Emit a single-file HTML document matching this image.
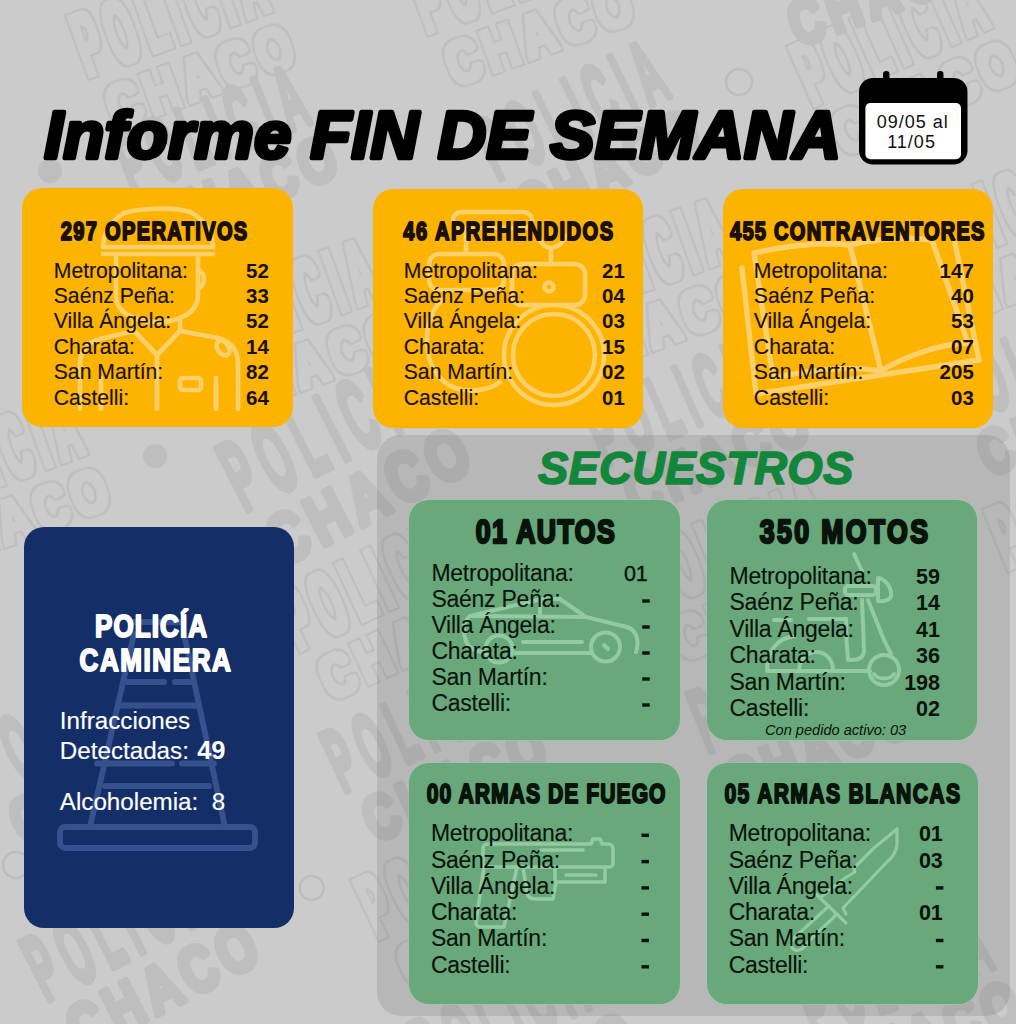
<!DOCTYPE html>
<html><head><meta charset="utf-8">
<style>
html,body{margin:0;padding:0;}
body{width:1016px;height:1024px;position:relative;overflow:hidden;background:#cbcbcb;font-family:"Liberation Sans",sans-serif;}
.card{position:absolute;border-radius:20px;}
.or{background:#fdb401;}
.gr{background:#68a87b;box-shadow:0 0 0 1px rgba(160,200,170,.55);}
svg{position:absolute;left:0;top:0;}
text{font-family:"Liberation Sans",sans-serif;}
</style></head><body>
<svg width="1016" height="1024" viewBox="0 0 1016 1024" style="left:0;top:0">
<defs><filter id="ol" x="-20%" y="-40%" width="140%" height="180%"><feMorphology operator="dilate" radius="4" in="SourceAlpha" result="d1"/><feMorphology operator="dilate" radius="2.2" in="SourceAlpha" result="d2"/><feComposite in="d1" in2="d2" operator="out" result="ring"/><feFlood flood-color="#bebebe" result="c"/><feComposite in="c" in2="ring" operator="in"/></filter></defs>
<g transform="translate(88,77) rotate(-20) scale(1.0)" fill="#000" filter="url(#ol)" font-family="Liberation Sans" font-weight="700"><text x="0" y="0" font-size="90" letter-spacing="22" textLength="204" lengthAdjust="spacingAndGlyphs">POLICIA</text><text x="8" y="59" font-size="62" letter-spacing="8" textLength="200" lengthAdjust="spacingAndGlyphs">CHACO</text></g>
<g transform="translate(427,34) rotate(-20) scale(1.0)" fill="#000" filter="url(#ol)" font-family="Liberation Sans" font-weight="700"><text x="0" y="0" font-size="90" letter-spacing="22" textLength="204" lengthAdjust="spacingAndGlyphs">POLICIA</text><text x="8" y="59" font-size="62" letter-spacing="8" textLength="200" lengthAdjust="spacingAndGlyphs">CHACO</text></g>
<g transform="translate(813,106) rotate(-24) scale(1.0)" fill="#000" filter="url(#ol)" font-family="Liberation Sans" font-weight="700"><text x="0" y="0" font-size="90" letter-spacing="22" textLength="204" lengthAdjust="spacingAndGlyphs">POLICIA</text><text x="8" y="59" font-size="62" letter-spacing="8" textLength="200" lengthAdjust="spacingAndGlyphs">CHACO</text></g>
<g transform="translate(132,195) rotate(-22) scale(1.0)" fill="#bebebe" stroke="#bebebe" stroke-width="7.00" stroke-linejoin="round" font-family="Liberation Sans" font-weight="700"><text x="0" y="0" font-size="90" letter-spacing="22" textLength="204" lengthAdjust="spacingAndGlyphs">POLICIA</text><text x="8" y="59" font-size="62" letter-spacing="8" textLength="200" lengthAdjust="spacingAndGlyphs">CHACO</text></g>
<g transform="translate(497,181) rotate(-26) scale(1.0)" fill="#bebebe" stroke="#bebebe" stroke-width="7.00" stroke-linejoin="round" font-family="Liberation Sans" font-weight="700"><text x="0" y="0" font-size="90" letter-spacing="22" textLength="204" lengthAdjust="spacingAndGlyphs">POLICIA</text><text x="8" y="59" font-size="62" letter-spacing="8" textLength="200" lengthAdjust="spacingAndGlyphs">CHACO</text></g>
<g transform="translate(770,-6) rotate(-20) scale(1.0)" fill="#bebebe" stroke="#bebebe" stroke-width="7.00" stroke-linejoin="round" font-family="Liberation Sans" font-weight="700"><text x="0" y="0" font-size="90" letter-spacing="22" textLength="204" lengthAdjust="spacingAndGlyphs">POLICIA</text><text x="8" y="59" font-size="62" letter-spacing="8" textLength="200" lengthAdjust="spacingAndGlyphs">CHACO</text></g>
<g transform="translate(-97,520) rotate(-20) scale(1.0)" fill="#000" filter="url(#ol)" font-family="Liberation Sans" font-weight="700"><text x="0" y="0" font-size="90" letter-spacing="22" textLength="204" lengthAdjust="spacingAndGlyphs">POLICIA</text><text x="8" y="59" font-size="62" letter-spacing="8" textLength="200" lengthAdjust="spacingAndGlyphs">CHACO</text></g>
<g transform="translate(199,364) rotate(-20) scale(1.0)" fill="#000" filter="url(#ol)" font-family="Liberation Sans" font-weight="700"><text x="0" y="0" font-size="90" letter-spacing="22" textLength="204" lengthAdjust="spacingAndGlyphs">POLICIA</text><text x="8" y="59" font-size="62" letter-spacing="8" textLength="200" lengthAdjust="spacingAndGlyphs">CHACO</text></g>
<g transform="translate(551,324) rotate(-20) scale(1.0)" fill="#000" filter="url(#ol)" font-family="Liberation Sans" font-weight="700"><text x="0" y="0" font-size="90" letter-spacing="22" textLength="204" lengthAdjust="spacingAndGlyphs">POLICIA</text><text x="8" y="59" font-size="62" letter-spacing="8" textLength="200" lengthAdjust="spacingAndGlyphs">CHACO</text></g>
<g transform="translate(905,282) rotate(-22) scale(1.0)" fill="#000" filter="url(#ol)" font-family="Liberation Sans" font-weight="700"><text x="0" y="0" font-size="90" letter-spacing="22" textLength="204" lengthAdjust="spacingAndGlyphs">POLICIA</text><text x="8" y="59" font-size="62" letter-spacing="8" textLength="200" lengthAdjust="spacingAndGlyphs">CHACO</text></g>
<g transform="translate(244,512) rotate(-27) scale(1.12)" fill="#bebebe" stroke="#bebebe" stroke-width="6.25" stroke-linejoin="round" font-family="Liberation Sans" font-weight="700"><text x="0" y="0" font-size="90" letter-spacing="22" textLength="204" lengthAdjust="spacingAndGlyphs">POLICIA</text><text x="8" y="59" font-size="62" letter-spacing="8" textLength="200" lengthAdjust="spacingAndGlyphs">CHACO</text></g>
<g transform="translate(605,467) rotate(-24) scale(1.0)" fill="#bebebe" stroke="#bebebe" stroke-width="7.00" stroke-linejoin="round" font-family="Liberation Sans" font-weight="700"><text x="0" y="0" font-size="90" letter-spacing="22" textLength="204" lengthAdjust="spacingAndGlyphs">POLICIA</text><text x="8" y="59" font-size="62" letter-spacing="8" textLength="200" lengthAdjust="spacingAndGlyphs">CHACO</text></g>
<g transform="translate(959,425) rotate(-22) scale(1.0)" fill="#bebebe" stroke="#bebebe" stroke-width="7.00" stroke-linejoin="round" font-family="Liberation Sans" font-weight="700"><text x="0" y="0" font-size="90" letter-spacing="22" textLength="204" lengthAdjust="spacingAndGlyphs">POLICIA</text><text x="8" y="59" font-size="62" letter-spacing="8" textLength="200" lengthAdjust="spacingAndGlyphs">CHACO</text></g>
<g transform="translate(299,651) rotate(-25) scale(1.0)" fill="#000" filter="url(#ol)" font-family="Liberation Sans" font-weight="700"><text x="0" y="0" font-size="90" letter-spacing="22" textLength="204" lengthAdjust="spacingAndGlyphs">POLICIA</text><text x="8" y="59" font-size="62" letter-spacing="8" textLength="200" lengthAdjust="spacingAndGlyphs">CHACO</text></g>
<g transform="translate(653,610) rotate(-22) scale(1.0)" fill="#000" filter="url(#ol)" font-family="Liberation Sans" font-weight="700"><text x="0" y="0" font-size="90" letter-spacing="22" textLength="204" lengthAdjust="spacingAndGlyphs">POLICIA</text><text x="8" y="59" font-size="62" letter-spacing="8" textLength="200" lengthAdjust="spacingAndGlyphs">CHACO</text></g>
<g transform="translate(1007,570) rotate(-22) scale(1.0)" fill="#000" filter="url(#ol)" font-family="Liberation Sans" font-weight="700"><text x="0" y="0" font-size="90" letter-spacing="22" textLength="204" lengthAdjust="spacingAndGlyphs">POLICIA</text><text x="8" y="59" font-size="62" letter-spacing="8" textLength="200" lengthAdjust="spacingAndGlyphs">CHACO</text></g>
<g transform="translate(-10,795) rotate(-25) scale(1.0)" fill="#bebebe" stroke="#bebebe" stroke-width="7.00" stroke-linejoin="round" font-family="Liberation Sans" font-weight="700"><text x="0" y="0" font-size="90" letter-spacing="22" textLength="204" lengthAdjust="spacingAndGlyphs">POLICIA</text><text x="8" y="59" font-size="62" letter-spacing="8" textLength="200" lengthAdjust="spacingAndGlyphs">CHACO</text></g>
<g transform="translate(343,793) rotate(-25) scale(1.0)" fill="#bebebe" stroke="#bebebe" stroke-width="7.00" stroke-linejoin="round" font-family="Liberation Sans" font-weight="700"><text x="0" y="0" font-size="90" letter-spacing="22" textLength="204" lengthAdjust="spacingAndGlyphs">POLICIA</text><text x="8" y="59" font-size="62" letter-spacing="8" textLength="200" lengthAdjust="spacingAndGlyphs">CHACO</text></g>
<g transform="translate(707,753) rotate(-22) scale(1.0)" fill="#bebebe" stroke="#bebebe" stroke-width="7.00" stroke-linejoin="round" font-family="Liberation Sans" font-weight="700"><text x="0" y="0" font-size="90" letter-spacing="22" textLength="204" lengthAdjust="spacingAndGlyphs">POLICIA</text><text x="8" y="59" font-size="62" letter-spacing="8" textLength="200" lengthAdjust="spacingAndGlyphs">CHACO</text></g>
<g transform="translate(378,939) rotate(-25) scale(1.0)" fill="#000" filter="url(#ol)" font-family="Liberation Sans" font-weight="700"><text x="0" y="0" font-size="90" letter-spacing="22" textLength="204" lengthAdjust="spacingAndGlyphs">POLICIA</text><text x="8" y="59" font-size="62" letter-spacing="8" textLength="200" lengthAdjust="spacingAndGlyphs">CHACO</text></g>
<g transform="translate(761,896) rotate(-22) scale(1.0)" fill="#000" filter="url(#ol)" font-family="Liberation Sans" font-weight="700"><text x="0" y="0" font-size="90" letter-spacing="22" textLength="204" lengthAdjust="spacingAndGlyphs">POLICIA</text><text x="8" y="59" font-size="62" letter-spacing="8" textLength="200" lengthAdjust="spacingAndGlyphs">CHACO</text></g>
<g transform="translate(46,1002) rotate(-27) scale(1.05)" fill="#bebebe" stroke="#bebebe" stroke-width="6.67" stroke-linejoin="round" font-family="Liberation Sans" font-weight="700"><text x="0" y="0" font-size="90" letter-spacing="22" textLength="204" lengthAdjust="spacingAndGlyphs">POLICIA</text><text x="8" y="59" font-size="62" letter-spacing="8" textLength="200" lengthAdjust="spacingAndGlyphs">CHACO</text></g>
<g transform="translate(432,1082) rotate(-25) scale(1.0)" fill="#bebebe" stroke="#bebebe" stroke-width="7.00" stroke-linejoin="round" font-family="Liberation Sans" font-weight="700"><text x="0" y="0" font-size="90" letter-spacing="22" textLength="204" lengthAdjust="spacingAndGlyphs">POLICIA</text><text x="8" y="59" font-size="62" letter-spacing="8" textLength="200" lengthAdjust="spacingAndGlyphs">CHACO</text></g>
<g transform="translate(815,1040) rotate(-22) scale(1.0)" fill="#bebebe" stroke="#bebebe" stroke-width="7.00" stroke-linejoin="round" font-family="Liberation Sans" font-weight="700"><text x="0" y="0" font-size="90" letter-spacing="22" textLength="204" lengthAdjust="spacingAndGlyphs">POLICIA</text><text x="8" y="59" font-size="62" letter-spacing="8" textLength="200" lengthAdjust="spacingAndGlyphs">CHACO</text></g>
<circle cx="50" cy="171" r="12" fill="#bebebe"/>
<circle cx="155" cy="456" r="12" fill="#bebebe"/>
<circle cx="739" cy="82" r="13" fill="none" stroke="#bdbdbd" stroke-width="2.5"/>
<circle cx="311.7" cy="888" r="12" fill="none" stroke="#bdbdbd" stroke-width="2.5"/>
<circle cx="16" cy="865" r="13" fill="none" stroke="#bdbdbd" stroke-width="2.5"/>
</svg>
<svg style="left:855px;top:66px" width="120" height="104" viewBox="0 0 120 104">
  <rect x="28" y="5" width="6.5" height="14" rx="3.2" fill="#000"/>
  <rect x="82" y="5" width="6.5" height="14" rx="3.2" fill="#000"/>
  <rect x="4" y="12" width="108.5" height="86.5" rx="14" fill="#000"/>
  <rect x="10.4" y="37" width="95.6" height="56.2" rx="5" fill="#fff"/>
</svg>
<div class="card or" style="left:22px;top:188px;width:271px;height:239px"></div>
<div class="card or" style="left:373px;top:189px;width:270px;height:239px"></div>
<div class="card or" style="left:723px;top:189px;width:270px;height:239px"></div>
<div class="card" style="left:24px;top:527px;width:270px;height:401px;background:#142e68"></div>
<div class="card" style="left:377px;top:434.5px;width:633px;height:581px;background:rgba(0,0,0,0.093);border-radius:24px"></div>
<div class="card gr" style="left:409px;top:500px;width:271px;height:240px"></div>
<div class="card gr" style="left:707px;top:500px;width:270px;height:240px"></div>
<div class="card gr" style="left:409px;top:763px;width:271px;height:241px"></div>
<div class="card gr" style="left:707px;top:763px;width:271px;height:241px"></div>
<svg width="1016" height="1024" viewBox="0 0 1016 1024" fill="none" stroke-linecap="round" stroke-linejoin="round">
<!-- officer -->
<g stroke="#fdd06a" stroke-width="4.7">
  <path d="M103,247 C104,232 110,222 124,213 C140,208 175,207 190,212 C206,220 212,232 213,247"/>
  <path d="M103,247 L213,247 M103,254 L213,254"/>
  <path d="M116,258 L116,296 C116,312 134,322 157,322 C180,322 198,312 198,296 L198,258"/>
  <path d="M198,270 C206,272 206,286 198,288"/>
  <path d="M134,318 L134,331 L157,355 L180,331 L180,318"/>
  <path d="M134,331 L100,339 C86,343 80,352 80,365 L80,409"/>
  <path d="M180,331 L218,338 C232,342 238,350 238,365 L238,409"/>
  <path d="M157,355 L157,409"/>
  <ellipse cx="223" cy="348" rx="5.5" ry="8" transform="rotate(-35 223 348)"/>
  <rect x="180" y="378" width="21" height="12" rx="3"/>
  <path d="M216,378 L216,409 M101,378 L101,409"/>
</g>
<!-- handcuffs -->
<g stroke="#fdd06a" stroke-width="4.6">
  <rect x="453" y="212" width="79" height="16" rx="8"/>
  <path d="M466,228 L466,254"/>
  <path d="M537,232 C540,246 548,248 551,248 C556,248 562,244 566,236"/>
  <path d="M551,248 L551,264"/>
  <rect x="429" y="254" width="75" height="36" rx="10"/>
  <path d="M442,300 C420,320 420,375 455,388 C470,393 490,390 500,382"/>
  <rect x="512" y="264" width="73" height="41" rx="10"/>
  <circle cx="549" cy="287" r="4.5"/>
  <circle cx="554" cy="355" r="50"/>
  <circle cx="554" cy="355" r="41"/>
</g>
<!-- book -->
<g stroke="#fdd06a" stroke-width="5.4">
  <path d="M742,268 L756,394 L979,360 L955,243"/>
  <path d="M754,253 C790,245 825,242 850,245 L881,371 C850,366 810,370 773,378 Z"/>
  <path d="M850,245 C880,238 910,237 932,240 L968,343 C940,344 905,356 881,371"/>
</g>
<!-- car -->
<g stroke="#93caa2" stroke-width="4">
  <path d="M466,641 C462,630 463,622 470,616 L542,599 L560,599 L586,617 L627,627 C636,630 640,640 636,652"/>
  <path d="M470,616 L586,617 M540,599 L540,617"/>
  <path d="M515,653 L592,653"/>
  <path d="M466,641 C470,650 478,652 485,652"/>
  <circle cx="605.5" cy="647" r="14.5"/>
  <circle cx="499" cy="649" r="13.5"/>
  <path d="M523,642 L582,642"/>
  <path d="M604,645 L608,649"/>
</g>
<!-- scooter -->
<g stroke="#93caa2" stroke-width="4">
  <path d="M854,554 L862,571"/>
  <path d="M878,578 C888,580 892,590 891,596 C890,600 884,602 878,601 Z"/>
  <rect x="845" y="586" width="31" height="9" rx="3"/>
  <path d="M868,600 L884,640 L891,654"/>
  <path d="M862,600 L864,650 C864,657 860,660 852,660 L848,660 C846,640 846,625 846,619"/>
  <path d="M809,619 L846,619 M774,620 L791,620"/>
  <path d="M767,670 C767,650 778,638 795,636"/>
  <path d="M799,670 C800,658 808,652 816,652 C826,652 833,660 833,670"/>
  <path d="M767,671 L870,671"/>
  <circle cx="884" cy="670" r="15"/>
  <path d="M874,674 C878,680 890,680 894,674"/>
</g>
<!-- gun -->
<g stroke="#93caa2" stroke-width="3.6">
  <path d="M487,844 L591,844 L593,839 L600,839 L602,844 L608,844 C611,844 613,846 613,849 L613,864 C613,866 611,867 609,867 L487,867 C485,867 483,866 483,864 L483,848 C483,846 485,844 487,844 Z"/>
  <path d="M541,850 L583,850"/>
  <path d="M555,867 L555,882 L605,882 L605,867"/>
  <path d="M566,875 L596,875"/>
  <path d="M523,867 L527,893 C528,897 531,899 535,899 L553,899 L556,882"/>
  <path d="M484,867 L476,922 C476,925 478,927 481,927 L504,927 L517,867"/>
</g>
<!-- knife -->
<g stroke="#93caa2" stroke-width="3.2">
  <path d="M897,829 L874,848 L854,868 L855,872 L845,878 L821,897"/>
  <path d="M897,829 L897,845 C896,852 892,858 887,862 L843,908 L846,914"/>
  <path d="M816,894 L846,923"/>
  <path d="M829,906 L796,936 C790,942 790,948 795,950 C800,952 806,946 810,940 L836,915"/>
</g>
<!-- cone -->
<g stroke="#36528e" stroke-width="5.8">
  <rect x="60" y="827" width="195" height="21" rx="5"/>
  <path d="M90,827 L134,634 M225,827 L184,634"/>
  <path d="M127,682 L164,682 M175,682 L190,682"/>
  <path d="M119,705.5 L198,705.5"/>
  <path d="M97,763.5 L172,763.5 M182,763.5 L214,763.5"/>
  <path d="M105,786 L209,786"/>
  <path d="M133,622 L183,622"/>
</g>
</svg>

<svg width="1016" height="1024" viewBox="0 0 1016 1024">
<text transform="translate(60.67,239.90) scale(0.7700,1)" font-size="26.02" fill="#1b1003" font-weight="700" letter-spacing="1.769" stroke="#1b1003" stroke-width="2.0" stroke-linejoin="round">297 OPERATIVOS</text>
<text transform="translate(53.75,277.50) scale(0.9630,1)" font-size="22.00" fill="#1b1003" stroke="#1b1003" stroke-width="0.15" stroke-linejoin="round">Metropolitana:</text>
<text x="268.80" y="277.50" font-size="20.50" fill="#1b1003" font-weight="700" text-anchor="end">52</text>
<text transform="translate(53.75,302.90) scale(0.9630,1)" font-size="22.00" fill="#1b1003" stroke="#1b1003" stroke-width="0.15" stroke-linejoin="round">Saénz Peña:</text>
<text x="268.80" y="302.90" font-size="20.50" fill="#1b1003" font-weight="700" text-anchor="end">33</text>
<text transform="translate(53.75,328.30) scale(0.9630,1)" font-size="22.00" fill="#1b1003" stroke="#1b1003" stroke-width="0.15" stroke-linejoin="round">Villa Ángela:</text>
<text x="268.80" y="328.30" font-size="20.50" fill="#1b1003" font-weight="700" text-anchor="end">52</text>
<text transform="translate(53.75,353.70) scale(0.9630,1)" font-size="22.00" fill="#1b1003" stroke="#1b1003" stroke-width="0.15" stroke-linejoin="round">Charata:</text>
<text x="268.80" y="353.70" font-size="20.50" fill="#1b1003" font-weight="700" text-anchor="end">14</text>
<text transform="translate(53.75,379.10) scale(0.9630,1)" font-size="22.00" fill="#1b1003" stroke="#1b1003" stroke-width="0.15" stroke-linejoin="round">San Martín:</text>
<text x="268.80" y="379.10" font-size="20.50" fill="#1b1003" font-weight="700" text-anchor="end">82</text>
<text transform="translate(53.75,404.50) scale(0.9630,1)" font-size="22.00" fill="#1b1003" stroke="#1b1003" stroke-width="0.15" stroke-linejoin="round">Castelli:</text>
<text x="268.80" y="404.50" font-size="20.50" fill="#1b1003" font-weight="700" text-anchor="end">64</text>
<text transform="translate(403.37,239.90) scale(0.7700,1)" font-size="26.02" fill="#1b1003" font-weight="700" letter-spacing="1.962" stroke="#1b1003" stroke-width="2.0" stroke-linejoin="round">46 APREHENDIDOS</text>
<text transform="translate(403.75,277.50) scale(0.9630,1)" font-size="22.00" fill="#1b1003" stroke="#1b1003" stroke-width="0.15" stroke-linejoin="round">Metropolitana:</text>
<text x="624.80" y="277.50" font-size="20.50" fill="#1b1003" font-weight="700" text-anchor="end">21</text>
<text transform="translate(403.75,302.90) scale(0.9630,1)" font-size="22.00" fill="#1b1003" stroke="#1b1003" stroke-width="0.15" stroke-linejoin="round">Saénz Peña:</text>
<text x="624.80" y="302.90" font-size="20.50" fill="#1b1003" font-weight="700" text-anchor="end">04</text>
<text transform="translate(403.75,328.30) scale(0.9630,1)" font-size="22.00" fill="#1b1003" stroke="#1b1003" stroke-width="0.15" stroke-linejoin="round">Villa Ángela:</text>
<text x="624.80" y="328.30" font-size="20.50" fill="#1b1003" font-weight="700" text-anchor="end">03</text>
<text transform="translate(403.75,353.70) scale(0.9630,1)" font-size="22.00" fill="#1b1003" stroke="#1b1003" stroke-width="0.15" stroke-linejoin="round">Charata:</text>
<text x="624.80" y="353.70" font-size="20.50" fill="#1b1003" font-weight="700" text-anchor="end">15</text>
<text transform="translate(403.75,379.10) scale(0.9630,1)" font-size="22.00" fill="#1b1003" stroke="#1b1003" stroke-width="0.15" stroke-linejoin="round">San Martín:</text>
<text x="624.80" y="379.10" font-size="20.50" fill="#1b1003" font-weight="700" text-anchor="end">02</text>
<text transform="translate(403.75,404.50) scale(0.9630,1)" font-size="22.00" fill="#1b1003" stroke="#1b1003" stroke-width="0.15" stroke-linejoin="round">Castelli:</text>
<text x="624.80" y="404.50" font-size="20.50" fill="#1b1003" font-weight="700" text-anchor="end">01</text>
<text transform="translate(730.07,239.90) scale(0.7700,1)" font-size="26.02" fill="#1b1003" font-weight="700" letter-spacing="1.629" stroke="#1b1003" stroke-width="2.0" stroke-linejoin="round">455 CONTRAVENTORES</text>
<text transform="translate(753.85,277.50) scale(0.9630,1)" font-size="22.00" fill="#1b1003" stroke="#1b1003" stroke-width="0.15" stroke-linejoin="round">Metropolitana:</text>
<text x="973.80" y="277.50" font-size="20.50" fill="#1b1003" font-weight="700" text-anchor="end">147</text>
<text transform="translate(753.85,302.90) scale(0.9630,1)" font-size="22.00" fill="#1b1003" stroke="#1b1003" stroke-width="0.15" stroke-linejoin="round">Saénz Peña:</text>
<text x="973.80" y="302.90" font-size="20.50" fill="#1b1003" font-weight="700" text-anchor="end">40</text>
<text transform="translate(753.85,328.30) scale(0.9630,1)" font-size="22.00" fill="#1b1003" stroke="#1b1003" stroke-width="0.15" stroke-linejoin="round">Villa Ángela:</text>
<text x="973.80" y="328.30" font-size="20.50" fill="#1b1003" font-weight="700" text-anchor="end">53</text>
<text transform="translate(753.85,353.70) scale(0.9630,1)" font-size="22.00" fill="#1b1003" stroke="#1b1003" stroke-width="0.15" stroke-linejoin="round">Charata:</text>
<text x="973.80" y="353.70" font-size="20.50" fill="#1b1003" font-weight="700" text-anchor="end">07</text>
<text transform="translate(753.85,379.10) scale(0.9630,1)" font-size="22.00" fill="#1b1003" stroke="#1b1003" stroke-width="0.15" stroke-linejoin="round">San Martín:</text>
<text x="973.80" y="379.10" font-size="20.50" fill="#1b1003" font-weight="700" text-anchor="end">205</text>
<text transform="translate(753.85,404.50) scale(0.9630,1)" font-size="22.00" fill="#1b1003" stroke="#1b1003" stroke-width="0.15" stroke-linejoin="round">Castelli:</text>
<text x="973.80" y="404.50" font-size="20.50" fill="#1b1003" font-weight="700" text-anchor="end">03</text>
<text transform="translate(94.94,637.30) scale(0.8400,1)" font-size="30.96" fill="#ffffff" font-weight="700" letter-spacing="1.338" stroke="#ffffff" stroke-width="2.0" stroke-linejoin="round">POLICÍA</text>
<text transform="translate(79.54,670.80) scale(0.8400,1)" font-size="30.96" fill="#ffffff" font-weight="700" letter-spacing="1.901" stroke="#ffffff" stroke-width="2.0" stroke-linejoin="round">CAMINERA</text>
<text x="59.80" y="729.30" font-size="24.20" fill="#ffffff" stroke="#ffffff" stroke-width="0.15" stroke-linejoin="round">Infracciones</text>
<text x="59.80" y="758.80" font-size="24.20" fill="#ffffff" stroke="#ffffff" stroke-width="0.15" stroke-linejoin="round">Detectadas: <tspan font-weight="700" stroke-width="0" font-size="25.5" x="197.2">49</tspan></text>
<text x="59.80" y="809.70" font-size="24.20" fill="#ffffff" stroke="#ffffff" stroke-width="0.15" stroke-linejoin="round">Alcoholemia:  8</text>
<text transform="translate(475.80,543.10) scale(0.7900,1)" font-size="33.72" fill="#08130a" font-weight="700" letter-spacing="1.827" stroke="#08130a" stroke-width="2.6" stroke-linejoin="round">01 AUTOS</text>
<text x="431.40" y="580.90" font-size="23.00" fill="#08130a" letter-spacing="-0.250" stroke="#08130a" stroke-width="0.1" stroke-linejoin="round">Metropolitana:</text>
<text x="647.80" y="580.90" font-size="21.50" fill="#08130a" stroke="#08130a" stroke-width="0.35" stroke-linejoin="round" text-anchor="end">01</text>
<text x="431.40" y="606.90" font-size="23.00" fill="#08130a" letter-spacing="-0.250" stroke="#08130a" stroke-width="0.1" stroke-linejoin="round">Saénz Peña:</text>
<rect x="642.20" y="599.30" width="7.5" height="3.4" fill="#08130a"/>
<text x="431.40" y="632.90" font-size="23.00" fill="#08130a" letter-spacing="-0.250" stroke="#08130a" stroke-width="0.1" stroke-linejoin="round">Villa Ángela:</text>
<rect x="642.20" y="625.30" width="7.5" height="3.4" fill="#08130a"/>
<text x="431.40" y="658.90" font-size="23.00" fill="#08130a" letter-spacing="-0.250" stroke="#08130a" stroke-width="0.1" stroke-linejoin="round">Charata:</text>
<rect x="642.20" y="651.30" width="7.5" height="3.4" fill="#08130a"/>
<text x="431.40" y="684.90" font-size="23.00" fill="#08130a" letter-spacing="-0.250" stroke="#08130a" stroke-width="0.1" stroke-linejoin="round">San Martín:</text>
<rect x="642.20" y="677.30" width="7.5" height="3.4" fill="#08130a"/>
<text x="431.40" y="710.90" font-size="23.00" fill="#08130a" letter-spacing="-0.250" stroke="#08130a" stroke-width="0.1" stroke-linejoin="round">Castelli:</text>
<rect x="642.20" y="703.30" width="7.5" height="3.4" fill="#08130a"/>
<text transform="translate(759.70,543.10) scale(0.7900,1)" font-size="33.72" fill="#08130a" font-weight="700" letter-spacing="3.048" stroke="#08130a" stroke-width="2.6" stroke-linejoin="round">350 MOTOS</text>
<text x="729.50" y="583.70" font-size="23.00" fill="#08130a" letter-spacing="-0.250" stroke="#08130a" stroke-width="0.1" stroke-linejoin="round">Metropolitana:</text>
<text x="940.00" y="583.70" font-size="21.50" fill="#08130a" font-weight="700" text-anchor="end">59</text>
<text x="729.50" y="610.15" font-size="23.00" fill="#08130a" letter-spacing="-0.250" stroke="#08130a" stroke-width="0.1" stroke-linejoin="round">Saénz Peña:</text>
<text x="940.00" y="610.15" font-size="21.50" fill="#08130a" font-weight="700" text-anchor="end">14</text>
<text x="729.50" y="636.60" font-size="23.00" fill="#08130a" letter-spacing="-0.250" stroke="#08130a" stroke-width="0.1" stroke-linejoin="round">Villa Ángela:</text>
<text x="940.00" y="636.60" font-size="21.50" fill="#08130a" font-weight="700" text-anchor="end">41</text>
<text x="729.50" y="663.05" font-size="23.00" fill="#08130a" letter-spacing="-0.250" stroke="#08130a" stroke-width="0.1" stroke-linejoin="round">Charata:</text>
<text x="940.00" y="663.05" font-size="21.50" fill="#08130a" font-weight="700" text-anchor="end">36</text>
<text x="729.50" y="689.50" font-size="23.00" fill="#08130a" letter-spacing="-0.250" stroke="#08130a" stroke-width="0.1" stroke-linejoin="round">San Martín:</text>
<text x="940.00" y="689.50" font-size="21.50" fill="#08130a" font-weight="700" text-anchor="end">198</text>
<text x="729.50" y="715.95" font-size="23.00" fill="#08130a" letter-spacing="-0.250" stroke="#08130a" stroke-width="0.1" stroke-linejoin="round">Castelli:</text>
<text x="940.00" y="715.95" font-size="21.50" fill="#08130a" font-weight="700" text-anchor="end">02</text>
<text transform="translate(426.69,803.00) scale(0.7500,1)" font-size="28.20" fill="#08130a" font-weight="700" letter-spacing="1.377" stroke="#08130a" stroke-width="2.0" stroke-linejoin="round">00 ARMAS DE FUEGO</text>
<text x="430.90" y="841.20" font-size="23.00" fill="#08130a" letter-spacing="-0.250" stroke="#08130a" stroke-width="0.1" stroke-linejoin="round">Metropolitana:</text>
<rect x="641.50" y="833.60" width="7.5" height="3.4" fill="#08130a"/>
<text x="430.90" y="867.50" font-size="23.00" fill="#08130a" letter-spacing="-0.250" stroke="#08130a" stroke-width="0.1" stroke-linejoin="round">Saénz Peña:</text>
<rect x="641.50" y="859.90" width="7.5" height="3.4" fill="#08130a"/>
<text x="430.90" y="893.80" font-size="23.00" fill="#08130a" letter-spacing="-0.250" stroke="#08130a" stroke-width="0.1" stroke-linejoin="round">Villa Ángela:</text>
<rect x="641.50" y="886.20" width="7.5" height="3.4" fill="#08130a"/>
<text x="430.90" y="920.10" font-size="23.00" fill="#08130a" letter-spacing="-0.250" stroke="#08130a" stroke-width="0.1" stroke-linejoin="round">Charata:</text>
<rect x="641.50" y="912.50" width="7.5" height="3.4" fill="#08130a"/>
<text x="430.90" y="946.40" font-size="23.00" fill="#08130a" letter-spacing="-0.250" stroke="#08130a" stroke-width="0.1" stroke-linejoin="round">San Martín:</text>
<rect x="641.50" y="938.80" width="7.5" height="3.4" fill="#08130a"/>
<text x="430.90" y="972.70" font-size="23.00" fill="#08130a" letter-spacing="-0.250" stroke="#08130a" stroke-width="0.1" stroke-linejoin="round">Castelli:</text>
<rect x="641.50" y="965.10" width="7.5" height="3.4" fill="#08130a"/>
<text transform="translate(724.49,803.00) scale(0.7500,1)" font-size="28.20" fill="#08130a" font-weight="700" letter-spacing="1.804" stroke="#08130a" stroke-width="2.0" stroke-linejoin="round">05 ARMAS BLANCAS</text>
<text x="728.70" y="841.20" font-size="23.00" fill="#08130a" letter-spacing="-0.250" stroke="#08130a" stroke-width="0.1" stroke-linejoin="round">Metropolitana:</text>
<text x="942.80" y="841.20" font-size="21.50" fill="#08130a" font-weight="700" text-anchor="end">01</text>
<text x="728.70" y="867.50" font-size="23.00" fill="#08130a" letter-spacing="-0.250" stroke="#08130a" stroke-width="0.1" stroke-linejoin="round">Saénz Peña:</text>
<text x="942.80" y="867.50" font-size="21.50" fill="#08130a" font-weight="700" text-anchor="end">03</text>
<text x="728.70" y="893.80" font-size="23.00" fill="#08130a" letter-spacing="-0.250" stroke="#08130a" stroke-width="0.1" stroke-linejoin="round">Villa Ángela:</text>
<rect x="935.90" y="886.20" width="7.5" height="3.4" fill="#08130a"/>
<text x="728.70" y="920.10" font-size="23.00" fill="#08130a" letter-spacing="-0.250" stroke="#08130a" stroke-width="0.1" stroke-linejoin="round">Charata:</text>
<text x="942.80" y="920.10" font-size="21.50" fill="#08130a" font-weight="700" text-anchor="end">01</text>
<text x="728.70" y="946.40" font-size="23.00" fill="#08130a" letter-spacing="-0.250" stroke="#08130a" stroke-width="0.1" stroke-linejoin="round">San Martín:</text>
<rect x="935.90" y="938.80" width="7.5" height="3.4" fill="#08130a"/>
<text x="728.70" y="972.70" font-size="23.00" fill="#08130a" letter-spacing="-0.250" stroke="#08130a" stroke-width="0.1" stroke-linejoin="round">Castelli:</text>
<rect x="935.90" y="965.10" width="7.5" height="3.4" fill="#08130a"/>
<text x="765.00" y="734.80" font-size="14.60" fill="#08130a" font-style="italic">Con pedido activo: 03</text>
<text x="44.50" y="157.80" font-size="66.50" fill="#000" font-weight="700" font-style="italic" letter-spacing="0.460" stroke="#000" stroke-width="4.4" stroke-linejoin="round">Informe FIN DE SEMANA</text>
<text x="538.00" y="484.40" font-size="45.50" fill="#12873b" font-weight="700" font-style="italic" letter-spacing="0.200" stroke="#12873b" stroke-width="1.6" stroke-linejoin="round">SECUESTROS</text>
<text x="876.80" y="127.60" font-size="18.00" fill="#111" letter-spacing="1.000">09/05 al</text>
<text x="887.20" y="147.50" font-size="18.00" fill="#111" letter-spacing="1.000">11/05</text>
</svg>
</body></html>
